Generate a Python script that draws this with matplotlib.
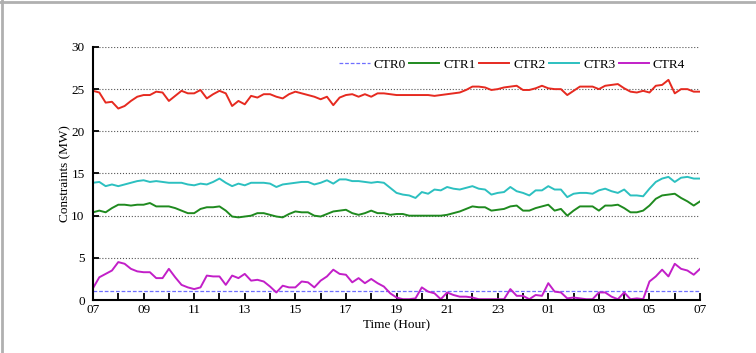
import numpy as np
import pandas as pd
import matplotlib
matplotlib.use('Agg')
import matplotlib.pyplot as plt
import matplotlib.dates as mdates
from matplotlib.lines import Line2D

# 15-minute samples from 07:00 to 07:00 next day
times = pd.date_range('2020-01-01 07:00', periods=97, freq='15min')

ctr0 = [1.1] * 97

ctr1 = [10.4, 10.6, 10.4, 10.9, 11.3, 11.3, 11.2, 11.3, 11.3, 11.5, 11.1, 11.1, 11.1, 10.9, 10.6, 10.3,
        10.3, 10.8, 11.0, 11.0, 11.1, 10.6, 9.9, 9.8, 9.9, 10.0, 10.3, 10.3, 10.1, 9.9, 9.8, 10.2,
        10.5, 10.4, 10.4, 10.0, 9.9, 10.2, 10.5, 10.6, 10.7, 10.3, 10.1, 10.3, 10.6, 10.3, 10.3, 10.1,
        10.2, 10.2, 10.0, 10.0, 10.0, 10.0, 10.0, 10.0, 10.1, 10.3, 10.5, 10.8, 11.1, 11.0, 11.0, 10.6,
        10.7, 10.8, 11.1, 11.2, 10.6, 10.6, 10.9, 11.1, 11.3, 10.6, 10.8, 10.0, 10.6, 11.1, 11.1, 11.1,
        10.6, 11.2, 11.2, 11.3, 10.9, 10.4, 10.4, 10.6, 11.2, 12.0, 12.4, 12.5, 12.6, 12.1, 11.7, 11.2,
        11.7]

ctr2 = [24.8, 24.6, 23.4, 23.5, 22.7, 23.0, 23.6, 24.1, 24.3, 24.3, 24.7, 24.6, 23.6, 24.2, 24.8, 24.5,
        24.5, 24.9, 23.9, 24.4, 24.8, 24.5, 23.0, 23.6, 23.2, 24.2, 24.0, 24.4, 24.4, 24.1, 23.9, 24.4,
        24.7, 24.5, 24.3, 24.1, 23.8, 24.1, 23.1, 24.0, 24.3, 24.4, 24.1, 24.4, 24.1, 24.5, 24.5, 24.4,
        24.3, 24.3, 24.3, 24.3, 24.3, 24.3, 24.2, 24.3, 24.4, 24.5, 24.6, 24.9, 25.3, 25.3, 25.2, 24.9,
        25.0, 25.2, 25.3, 25.4, 24.9, 24.9, 25.1, 25.4, 25.1, 25.0, 25.0, 24.3, 24.8, 25.3, 25.3, 25.3,
        25.0, 25.4, 25.5, 25.6, 25.1, 24.7, 24.6, 24.8, 24.6, 25.4, 25.5, 26.1, 24.5, 25.0, 25.0, 24.7,
        24.7]

ctr3 = [13.9, 14.0, 13.5, 13.7, 13.5, 13.7, 13.9, 14.1, 14.2, 14.0, 14.1, 14.0, 13.9, 13.9, 13.9, 13.7,
        13.6, 13.8, 13.7, 14.0, 14.4, 13.9, 13.5, 13.8, 13.6, 13.9, 13.9, 13.9, 13.8, 13.4, 13.7, 13.8,
        13.9, 14.0, 14.0, 13.7, 13.9, 14.2, 13.8, 14.3, 14.3, 14.1, 14.1, 14.0, 13.9, 14.0, 13.9, 13.3,
        12.7, 12.5, 12.4, 12.1, 12.8, 12.6, 13.1, 13.0, 13.4, 13.2, 13.1, 13.3, 13.5, 13.2, 13.1, 12.5,
        12.7, 12.8, 13.4, 12.9, 12.7, 12.4, 13.0, 13.0, 13.5, 13.1, 13.1, 12.2, 12.6, 12.7, 12.7, 12.6,
        13.0, 13.2, 12.9, 12.7, 13.1, 12.4, 12.4, 12.3, 13.2, 14.0, 14.4, 14.6, 14.0, 14.5, 14.6, 14.4,
        14.4]

ctr4 = [1.4, 2.7, 3.1, 3.5, 4.5, 4.3, 3.7, 3.4, 3.3, 3.3, 2.6, 2.6, 3.7, 2.7, 1.8, 1.5,
        1.3, 1.5, 2.9, 2.8, 2.8, 1.8, 2.9, 2.6, 3.1, 2.3, 2.4, 2.2, 1.6, 0.9, 1.7, 1.5,
        1.5, 2.2, 2.1, 1.5, 2.3, 2.8, 3.6, 3.1, 3.0, 2.1, 2.6, 2.0, 2.5, 2.0, 1.6, 0.8,
        0.3, 0.1, 0.1, 0.2, 1.5, 1.0, 0.8, 0.1, 0.9, 0.6, 0.4, 0.4, 0.3, 0.1, 0.1, 0.1,
        0.1, 0.1, 1.3, 0.5, 0.5, 0.1, 0.6, 0.5, 2.0, 1.0, 0.9, 0.2, 0.3, 0.2, 0.1, 0.1,
        0.9, 0.9, 0.4, 0.1, 0.9, 0.1, 0.2, 0.1, 2.2, 2.8, 3.6, 2.8, 4.3, 3.7, 3.5, 3.0,
        3.7]

plt.rcParams['font.family'] = ['Liberation Serif', 'DejaVu Serif']

fig = plt.figure(figsize=(7.56, 3.53), dpi=100)
ax = fig.add_axes([0.123, 0.150, 0.803, 0.717])

ax.plot(times, ctr0, color='#6f6fff', linestyle='--', linewidth=0.9, dashes=(3, 1.5), label='CTR0')
ax.plot(times, ctr1, color='#1f8a1f', linewidth=1.4, label='CTR1')
ax.plot(times, ctr2, color='#e62a20', linewidth=1.4, label='CTR2')
ax.plot(times, ctr3, color='#2cc0c0', linewidth=1.4, label='CTR3')
ax.plot(times, ctr4, color='#c21fc8', linewidth=1.4, label='CTR4')

ax.set_xlim(times[0], times[-1])
ax.set_ylim(0, 30)
ax.set_yticks([0, 5, 10, 15, 20, 25, 30])

ax.xaxis.set_major_locator(mdates.HourLocator(byhour=range(1, 24, 2)))
ax.xaxis.set_major_formatter(mdates.DateFormatter('%H'))
ax.xaxis.set_minor_locator(mdates.HourLocator(byhour=range(0, 24, 2)))

ax.tick_params(axis='both', which='both', direction='in', width=1.3, labelsize=9.5, color='black')
ax.tick_params(axis='x', which='both', length=5, pad=3)
ax.tick_params(axis='y', length=4, pad=6)

ax.grid(axis='y', linestyle=':', color='#555555', linewidth=0.8)

for s in ['top', 'right']:
    ax.spines[s].set_visible(False)
for s in ['left', 'bottom']:
    ax.spines[s].set_linewidth(1.5)

ax.set_xlabel('Time (Hour)', fontsize=9.5, labelpad=2)
ax.set_ylabel('Constraints (MW)', fontsize=9.5, labelpad=0)

ax.legend(loc='upper right', ncol=5, frameon=False, fontsize=9.5, handlelength=2.3,
          columnspacing=0.25, handletextpad=0.3, bbox_to_anchor=(0.995, 1.0))

# light frame of the original screenshot
fig.add_artist(Line2D([0, 1], [0.995, 0.995], color='#b0b0b0', linewidth=2, transform=fig.transFigure))
fig.add_artist(Line2D([0.002, 0.002], [0, 1], color='#b0b0b0', linewidth=2, transform=fig.transFigure))

fig.savefig('out.png', dpi=100)
